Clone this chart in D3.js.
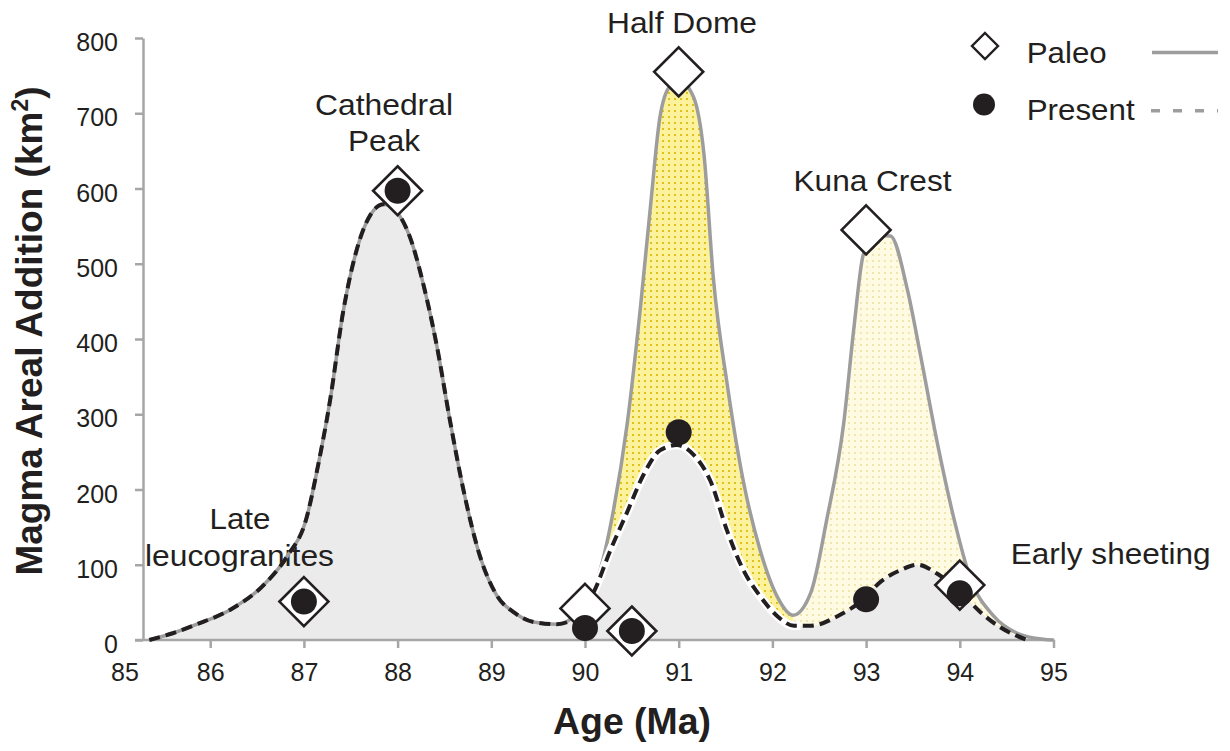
<!DOCTYPE html>
<html><head><meta charset="utf-8">
<script src="https://cdn.jsdelivr.net/npm/d3@7"></script>
<style>
body{margin:0;background:#fff}
svg{display:block}
text{font-family:"Liberation Sans",Arial,Helvetica,sans-serif;fill:#231f20}
</style>
</head><body><svg id="c" width="1230" height="751"></svg>
<script>
// ---- data ----
// shared part of both curves (Paleo == Present)
const sharedAge  = [85.35, 85.6, 85.86, 86.21, 86.57, 86.82, 87.03, 87.14, 87.28, 87.42, 87.56, 87.71, 87.85, 87.99, 88.13, 88.28, 88.42, 88.56, 88.70, 88.88, 89.06, 89.25, 89.45, 89.7];
const sharedArea = [0, 9, 21, 40, 73, 111, 163, 225, 319, 437, 517, 565, 579, 569, 536, 470, 390, 291, 201, 111, 59, 36, 24, 21];
// Paleo curve after divergence
const paleoAge  = [89.85, 90.0, 90.13, 90.30, 90.45, 90.59, 90.70, 90.80, 90.91, 91.02, 91.16, 91.27, 91.37, 91.52, 91.69, 91.87, 92.05, 92.22, 92.41, 92.58, 92.76, 92.87, 92.97, 93.1, 93.26, 93.44, 93.58, 93.76, 93.94, 94.11, 94.36, 94.65, 94.89, 95.0];
const paleoArea = [28, 48, 80, 170, 287, 440, 578, 695, 736, 742, 721, 645, 481, 338, 211, 119, 58, 33, 63, 160, 287, 415, 512, 538, 537, 466, 379, 262, 160, 83, 32, 7, 1, 0];
// Present curve after divergence
const presentAge  = [89.85, 90.0, 90.09, 90.27, 90.45, 90.63, 90.80, 90.98, 91.16, 91.34, 91.52, 91.69, 91.87, 92.05, 92.23, 92.41, 92.70, 92.95, 93.16, 93.37, 93.55, 93.76, 94.01, 94.22, 94.43, 94.72];
const presentArea = [26, 45, 63, 119, 170, 221, 252, 259, 246, 211, 144, 93, 58, 32, 19, 19, 32, 52, 78, 93, 100, 88, 63, 37, 17, 0];
// point markers
const pointAge      = [87, 88, 90, 90.5, 91, 93, 94];
const paleoPoints   = [51, 597, 42, 12, 755, 545, 73];
const presentPoints = [51, 597, 16, 12, 276, 54, 62];
// ticks
const yTicks = [0, 100, 200, 300, 400, 500, 600, 700, 800];
const xTicks = [85, 86, 87, 88, 89, 90, 91, 92, 93, 94, 95];
// annotation texts
const annotations = ["Half Dome", "Cathedral", "Peak", "Kuna Crest", "Late", "leucogranites", "Early sheeting"];
const seriesNames = ["Paleo", "Present"];

// ---- layout ----
const svg = d3.select('#c');
const x = d3.scaleLinear().domain([85, 95]).range([116.5, 1053.5]);
const y = d3.scaleLinear().domain([0, 800]).range([640, 38]);
const axisX0 = 143;
const axisCol = '#a6a6a6';
const dark = '#231f20';

const zip = (a, b) => a.map((v, i) => [v, b[i]]);
const paleo = zip(sharedAge, sharedArea).concat(zip(paleoAge, paleoArea));
const present = zip(sharedAge, sharedArea).concat(zip(presentAge, presentArea));

const defs = svg.append('defs');
function dotPattern(id, bg, dot) {
  const p = defs.append('pattern').attr('id', id).attr('patternUnits', 'userSpaceOnUse')
    .attr('width', 6).attr('height', 6);
  p.append('rect').attr('width', 6).attr('height', 6).attr('fill', bg);
  p.append('rect').attr('x', 2).attr('y', 2).attr('width', 2).attr('height', 2).attr('fill', dot);
}
dotPattern('hd', '#fcf29c', '#e0c01a');
dotPattern('kc', '#fffbe3', '#f1e5b0');
function clipRect(id, a, b) {
  defs.append('clipPath').attr('id', id).append('rect')
    .attr('x', x(a)).attr('y', 0).attr('width', x(b) - x(a)).attr('height', 700);
}
clipRect('clipHD', 89.6, 92.22);
clipRect('clipKC', 92.22, 95.2);
clipRect('clipHalo', 89.92, 92.3);

const area = d3.area().x(d => x(d[0])).y0(y(0)).y1(d => y(d[1])).curve(d3.curveMonotoneX);
const line = d3.line().x(d => x(d[0])).y(d => y(d[1])).curve(d3.curveMonotoneX);

// fills
svg.append('path').attr('d', area(paleo)).attr('fill', 'url(#hd)').attr('clip-path', 'url(#clipHD)');
svg.append('path').attr('d', area(paleo)).attr('fill', 'url(#kc)').attr('clip-path', 'url(#clipKC)');
svg.append('path').attr('d', area(present)).attr('fill', '#ebebeb');

// axes
const yAxis = d3.axisLeft(y).tickValues(yTicks).tickSize(8).tickSizeOuter(0).tickPadding(17);
const gy = svg.append('g').attr('transform', `translate(${axisX0},0)`).call(yAxis);
gy.select('.domain').attr('stroke', axisCol).attr('stroke-width', 2.5);
gy.selectAll('.tick line').attr('stroke', axisCol).attr('stroke-width', 2.5);
gy.selectAll('.tick text').attr('font-size', 25).attr('dy', '0.5em')
  .style('font-family', '"Liberation Sans",Arial,sans-serif').attr('fill', '#111');

svg.append('line').attr('x1', 135).attr('x2', x(95) + 1).attr('y1', y(0)).attr('y2', y(0))
  .attr('stroke', axisCol).attr('stroke-width', 2.5);
const xAxis = d3.axisBottom(x).tickValues(xTicks.slice(1)).tickSize(8).tickSizeOuter(0).tickPadding(15).tickFormat(d3.format('d'));
const gx = svg.append('g').attr('transform', `translate(0,${y(0)})`).call(xAxis);
gx.select('.domain').remove();
gx.selectAll('.tick line').attr('stroke', axisCol).attr('stroke-width', 2.5);
gx.selectAll('.tick text').attr('font-size', 25)
  .style('font-family', '"Liberation Sans",Arial,sans-serif').attr('fill', '#111');
// first label (85) sits just right of the value axis
svg.append('text').attr('x', 125).attr('y', 680.7).attr('text-anchor', 'middle')
  .attr('font-size', 25).attr('fill', '#111').text(d3.format('d')(xTicks[0]));

// axis titles
svg.append('text').attr('x', 632).attr('y', 734).attr('text-anchor', 'middle')
  .attr('font-size', 36).attr('font-weight', 'bold').attr('fill', '#111')
  .attr('textLength', 158).attr('lengthAdjust', 'spacingAndGlyphs').text('Age (Ma)');
const yt = svg.append('text').attr('transform', 'translate(42,331) rotate(-90)')
  .attr('text-anchor', 'middle').attr('font-size', 37).attr('font-weight', 'bold').attr('fill', '#111');
yt.append('tspan').text('Magma Areal Addition (km');
yt.append('tspan').attr('font-size', 23).attr('dy', -14).text('2');
yt.append('tspan').attr('dy', 14).text(')');

// annotations
const annLayout = [
  {cx: 682, by: 33, len: 150},
  {cx: 384, by: 114.5, len: 138},
  {cx: 384, by: 151, len: 72},
  {cx: 872.5, by: 191, len: 158},
  {cx: 240, by: 528.6, len: 61},
  {cx: 239.5, by: 566.3, len: 189},
  {cx: 1110.7, by: 564.3, len: 200}
];
svg.selectAll('text.ann').data(annotations).join('text').attr('class', 'ann')
  .attr('x', (d, i) => annLayout[i].cx).attr('y', (d, i) => annLayout[i].by)
  .attr('text-anchor', 'middle').attr('font-size', 29)
  .attr('textLength', (d, i) => annLayout[i].len).attr('lengthAdjust', 'spacingAndGlyphs')
  .text(d => d);

// lines
svg.append('path').attr('d', line(paleo)).attr('fill', 'none').attr('stroke', '#9d9d9d').attr('stroke-width', 3.5);
svg.append('path').attr('d', line(present)).attr('fill', 'none').attr('stroke', '#fff').attr('stroke-width', 8.5)
  .attr('clip-path', 'url(#clipHalo)');
svg.append('path').attr('d', line(present)).attr('fill', 'none').attr('stroke', dark).attr('stroke-width', 4)
  .attr('stroke-dasharray', '11,6');

// markers
const diamond = h => `M0,${-h}L${h},0L0,${h}L${-h},0Z`;
svg.selectAll('path.pal').data(zip(pointAge, paleoPoints)).join('path').attr('class', 'pal')
  .attr('d', diamond(24.5)).attr('transform', d => `translate(${x(d[0])},${y(d[1])})`)
  .attr('fill', '#fff').attr('stroke', dark).attr('stroke-width', 2.6);
svg.selectAll('circle.pre').data(zip(pointAge, presentPoints)).join('circle').attr('class', 'pre')
  .attr('cx', d => x(d[0])).attr('cy', d => y(d[1])).attr('r', 13).attr('fill', dark);

// legend
const lg = svg.append('g');
lg.append('path').attr('d', diamond(13)).attr('transform', 'translate(985,46)')
  .attr('fill', '#fff').attr('stroke', dark).attr('stroke-width', 2.4);
lg.append('circle').attr('cx', 984).attr('cy', 104.5).attr('r', 11).attr('fill', dark);
lg.append('text').attr('x', 1026.7).attr('y', 63).attr('font-size', 29)
  .attr('textLength', 80).attr('lengthAdjust', 'spacingAndGlyphs').text(seriesNames[0]);
lg.append('text').attr('x', 1026.7).attr('y', 119.5).attr('font-size', 29)
  .attr('textLength', 108).attr('lengthAdjust', 'spacingAndGlyphs').text(seriesNames[1]);
lg.append('line').attr('x1', 1152).attr('x2', 1218).attr('y1', 52.5).attr('y2', 52.5)
  .attr('stroke', '#9d9d9d').attr('stroke-width', 3.5);
lg.append('line').attr('x1', 1151).attr('x2', 1218).attr('y1', 110.7).attr('y2', 110.7)
  .attr('stroke', '#9d9d9d').attr('stroke-width', 3.5).attr('stroke-dasharray', '9,13');
</script>
</body></html>
